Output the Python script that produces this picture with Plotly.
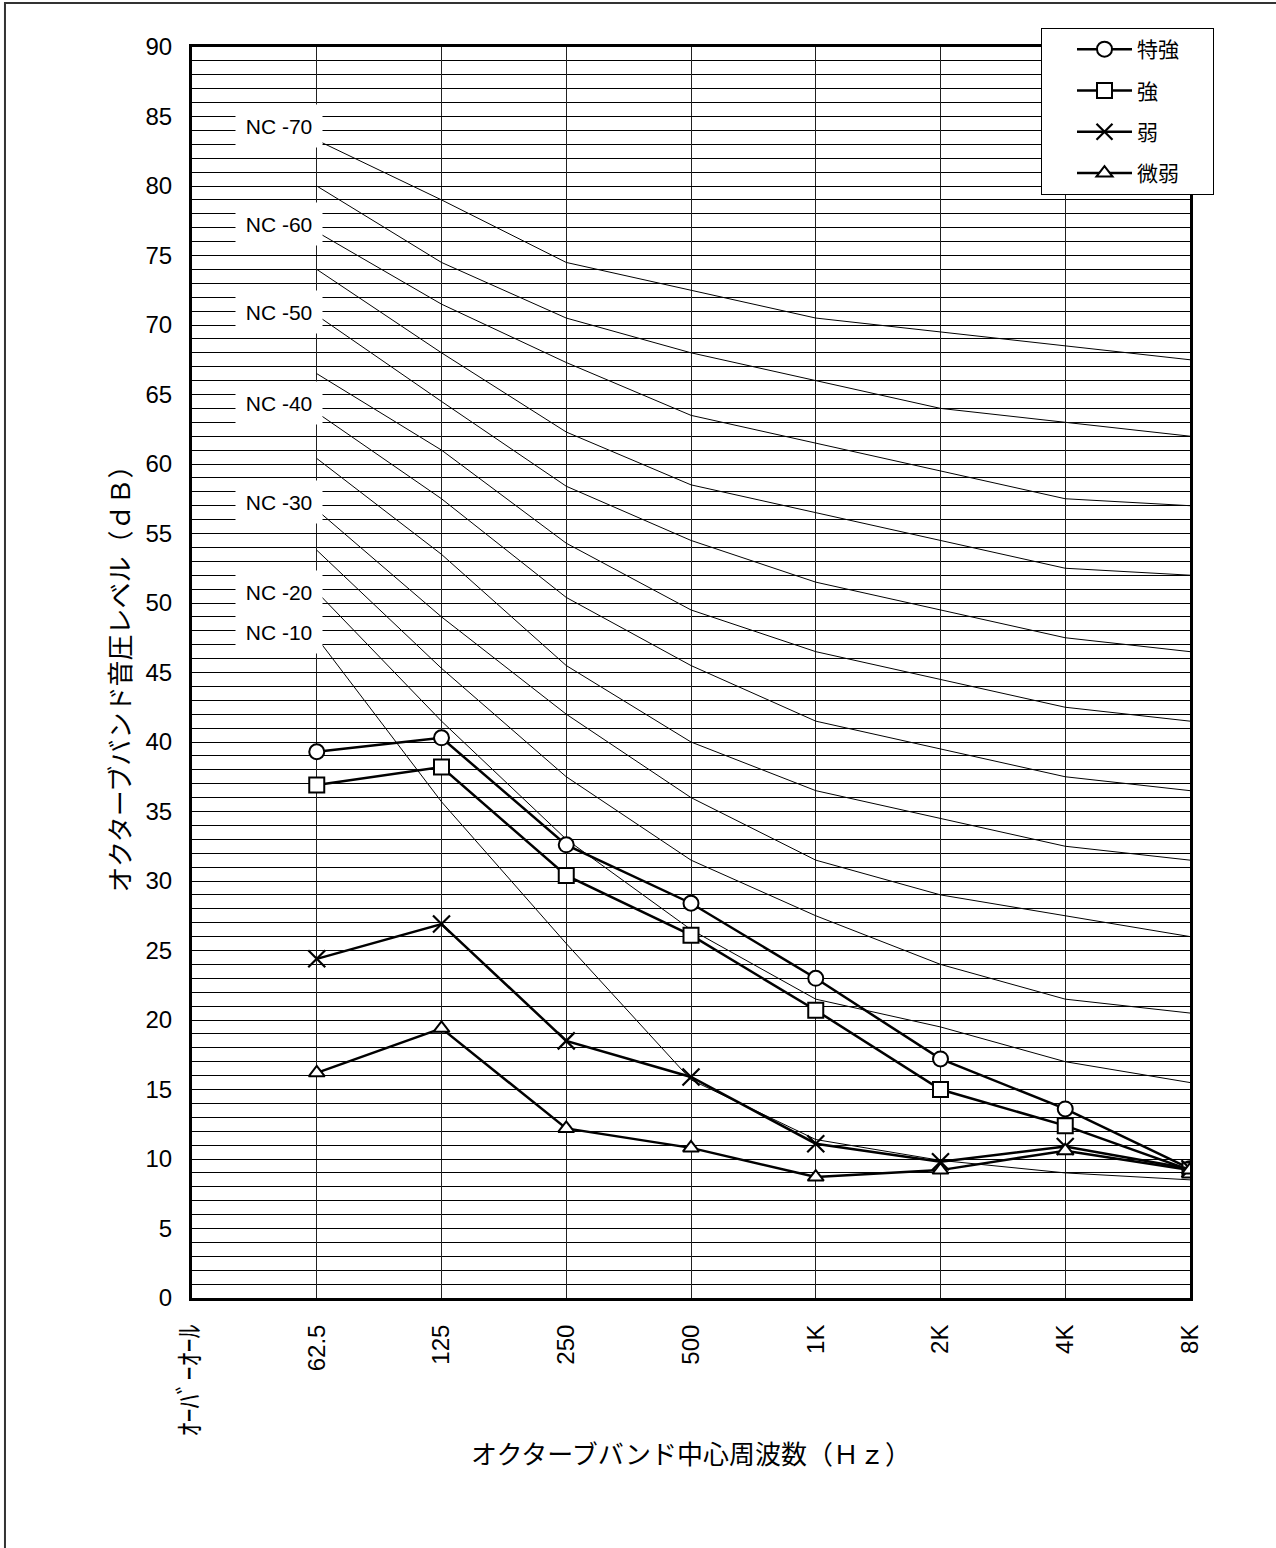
import plotly.graph_objects as go

# ---- data ----
categories = ["ｵｰﾊﾞｰｵｰﾙ", "62.5", "125", "250", "500", "1K", "2K", "4K", "8K"]
band_index = [1, 2, 3, 4, 5, 6, 7, 8]   # position of each octave band on the category axis

series_names = ["特強", "強", "弱", "微弱"]
toku = [39.3, 40.3, 32.6, 28.4, 23.0, 17.2, 13.6, 9.3]
kyo = [36.9, 38.2, 30.4, 26.1, 20.7, 15.0, 12.4, 9.2]
jaku = [24.4, 26.9, 18.5, 15.9, 11.1, 9.8, 10.9, 9.3]
bijaku = [16.2, 19.4, 12.2, 10.8, 8.7, 9.2, 10.6, 9.2]

nc70 = [83.3, 79.0, 74.5, 72.5, 70.5, 69.5, 68.5, 67.5]
nc65 = [80.0, 74.5, 70.5, 68.0, 66.0, 64.0, 63.0, 62.0]
nc60 = [76.7, 71.5, 67.3, 63.5, 61.5, 59.5, 57.5, 57.0]
nc55 = [74.0, 68.0, 62.3, 58.5, 56.5, 54.5, 52.5, 52.0]
nc50 = [70.7, 64.5, 58.4, 54.5, 51.5, 49.5, 47.5, 46.5]
nc45 = [66.5, 61.0, 54.3, 49.5, 46.5, 44.5, 42.5, 41.5]
nc40 = [63.7, 57.5, 50.4, 45.5, 41.5, 39.5, 37.5, 36.5]
nc35 = [60.4, 53.5, 45.5, 40.0, 36.5, 34.5, 32.5, 31.5]
nc30 = [56.7, 49.0, 42.0, 36.0, 31.5, 29.0, 27.5, 26.0]
nc25 = [53.8, 45.3, 37.5, 31.5, 27.5, 24.0, 21.5, 20.5]
nc20 = [50.8, 41.5, 33.0, 26.5, 21.5, 19.5, 17.0, 15.5]
nc10 = [47.5, 35.7, 25.5, 15.7, 11.4, 9.9, 9.0, 8.5]

nc_label_text = ["NC -70", "NC -60", "NC -50", "NC -40", "NC -30", "NC -20", "NC -10"]
nc_label_y = [84.3, 77.3, 70.9, 64.4, 57.3, 50.8, 47.9]

y_ticks = list(range(0, 91, 5))

# ---- figure ----
fig = go.Figure()

for curve in [nc70, nc65, nc60, nc55, nc50, nc45, nc40, nc35, nc30, nc25, nc20, nc10]:
    fig.add_trace(go.Scatter(x=band_index, y=curve, mode="lines",
                             line=dict(color="black", width=1),
                             showlegend=False, hoverinfo="skip"))

styles = [
    dict(symbol="circle", size=15, color="white", line=dict(color="black", width=2)),
    dict(symbol="square", size=15, color="white", line=dict(color="black", width=2)),
    dict(symbol="x-thin", size=17, color="black", line=dict(color="black", width=2.2)),
    dict(symbol="triangle-up", size=14, color="white", line=dict(color="black", width=2)),
]
pad = "\u00a0" * 6
for name, vals, mk in zip(series_names, [toku, kyo, jaku, bijaku], styles):
    fig.add_trace(go.Scatter(x=band_index, y=vals, mode="lines+markers", name=name + pad,
                             legendgroup=name,
                             line=dict(color="black", width=2.5), marker=mk))

for txt, yv in zip(nc_label_text, nc_label_y):
    fig.add_annotation(x=0.70, y=yv, xref="x", yref="y", text=txt, showarrow=False,
                       font=dict(family="Liberation Sans Narrow, Arial Narrow, Liberation Sans",
                                 size=21, color="black"),
                       bgcolor="white", width=84, height=40, xanchor="center", yanchor="middle")

# outer frame
fig.add_shape(type="rect", xref="paper", yref="paper", x0=-0.1874, y0=-0.4, x1=1.3, y1=1.0352,
              line=dict(color="#333333", width=2), layer="below")

fig.update_layout(
    width=1276, height=1548,
    margin=dict(l=192, r=86, t=47, b=250),
    paper_bgcolor="white", plot_bgcolor="white",
    font=dict(family="Liberation Sans, Arial, Noto Sans CJK JP", color="black", size=22),
    legend=dict(x=0.8507, y=1.0152, xanchor="left", yanchor="top",
                bgcolor="white", bordercolor="black", borderwidth=1,
                font=dict(family="Noto Sans CJK JP", size=21),
                tracegroupgap=11, itemwidth=55, indentation=30),
)

x_ticktext = ["<span style='font-family:Noto Sans CJK JP;font-size:28px'>" + categories[0] + "</span>"] + categories[1:]

fig.update_xaxes(range=[0, 8], tickmode="array", tickvals=list(range(9)), ticktext=x_ticktext,
                 tickangle=-90, showgrid=True, gridcolor="#222222", gridwidth=1,
                 showline=True, linecolor="black", linewidth=3, mirror=True,
                 ticks="outside", ticklen=14, tickcolor="white", zeroline=False,
                 tickfont=dict(family="Liberation Sans, Noto Sans CJK JP", size=24),
                 title=dict(text="オクターブバンド中心周波数（Ｈｚ）", standoff=11,
                            font=dict(family="Noto Sans CJK JP", size=26)))
fig.update_yaxes(range=[0, 90], tickmode="array", tickvals=y_ticks,
                 showgrid=True, gridcolor="black", gridwidth=1,
                 minor=dict(dtick=1, showgrid=True, gridcolor="black", gridwidth=1),
                 showline=True, linecolor="black", linewidth=3, mirror=True,
                 ticks="outside", ticklen=12, tickcolor="white", zeroline=False,
                 tickfont=dict(family="Liberation Sans, Arial", size=24),
                 title=dict(text="オクターブバンド音圧レベル（ｄＢ）", standoff=8,
                            font=dict(family="Noto Sans CJK JP", size=26)))

fig.write_html("out.html", config={"displayModeBar": False},
               post_script="document.body.style.margin='0';")
